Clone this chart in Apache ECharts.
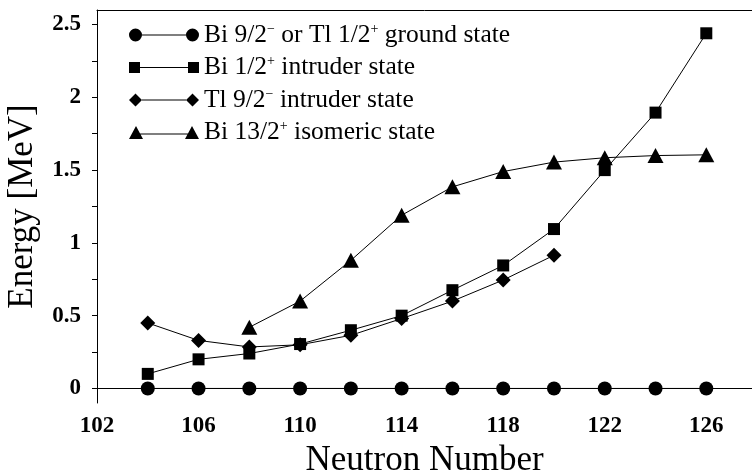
<!DOCTYPE html>
<html>
<head>
<meta charset="utf-8">
<script src="https://cdn.jsdelivr.net/npm/echarts@6/dist/echarts.min.js"></script>
<style>html,body{margin:0;padding:0;background:#fff}#c{width:752px;height:470px}</style>
</head>
<body>
<div id="c"></div>
<script>
var neutronGround = [104, 106, 108, 110, 112, 114, 116, 118, 120, 122, 124, 126];
var groundState = [0, 0, 0, 0, 0, 0, 0, 0, 0, 0, 0, 0];
var neutronBiIntruder = [104, 106, 108, 110, 112, 114, 116, 118, 120, 122, 124, 126];
var biIntruder = [0.1, 0.2, 0.24, 0.305, 0.4, 0.5, 0.675, 0.845, 1.095, 1.5, 1.895, 2.44];
var neutronTlIntruder = [104, 106, 108, 110, 112, 114, 116, 118, 120];
var tlIntruder = [0.45, 0.33, 0.285, 0.3, 0.365, 0.48, 0.6, 0.745, 0.915];
var neutronIsomer = [108, 110, 112, 114, 116, 118, 120, 122, 124, 126];
var biIsomer = [0.42, 0.6, 0.88, 1.19, 1.385, 1.49, 1.555, 1.585, 1.6, 1.605];
var xTickLabels = [102, 106, 110, 114, 118, 122, 126];
var yTickLabels = [0, 0.5, 1, 1.5, 2, 2.5];
var seriesNames = ['ground', 'biIntr', 'tlIntr', 'iso'];

function pairs(xs, ys) { return xs.map(function (x, i) { return [x, ys[i]]; }); }
var xMinorTicks = []; for (var t = 102; t <= 126; t += 2) xMinorTicks.push(t);
var yMinorTicks = []; for (var u = 0; u <= 10; u++) yMinorTicks.push(u * 0.25);

var serif = '"Liberation Serif", "Times New Roman", serif';
var circ = 'M0,7 a6.5,6.5 0 1,0 13,0 a6.5,6.5 0 1,0 -13,0 Z M13,6.5 L57,6.5 L57,7.5 L13,7.5 Z M57,7 a6.5,6.5 0 1,0 13,0 a6.5,6.5 0 1,0 -13,0 Z';
var sq = 'M0,0 L11,0 L11,11 L0,11 Z M11,5 L59,5 L59,6 L11,6 Z M59,0 L70,0 L70,11 L59,11 Z';
var dia = 'M0,6.5 L6.5,0 L13,6.5 L6.5,13 Z M13,6 L57,6 L57,7 L13,7 Z M57,6.5 L63.5,0 L70,6.5 L63.5,13 Z';
var tri = 'M0,13 L7,0 L14,13 Z M10,7.5 L60,7.5 L60,8.5 L10,8.5 Z M56,13 L63,0 L70,13 Z';
var legendText = {
  ground: '{a|Bi 9/2}{s|\u2212}{a| or Tl 1/2}{s|+}{a| ground state}',
  biIntr: '{a|Bi 1/2}{s|+}{a| intruder state}',
  tlIntr: '{a|Tl 9/2}{s|\u2212}{a| intruder state}',
  iso: '{a|Bi 13/2}{s|+}{a| isomeric state}'
};

function mk(name, xs, ys, sym, size) {
  return {
    name: name, type: 'line', data: pairs(xs, ys),
    symbol: sym, symbolSize: size, showSymbol: true,
    lineStyle: { color: '#000', width: 1 },
    itemStyle: { color: '#000' },
    emphasis: { disabled: true },
    animation: false, z: 3
  };
}

var chart = echarts.init(document.getElementById('c'));
chart.setOption({
  backgroundColor: '#fff',
  animation: false,
  grid: { left: 97, right: 0, top: 10, bottom: 67, containLabel: false, outerBoundsMode: 'none' },
  legend: {
    orient: 'vertical', left: 129, top: 22, padding: 0,
    itemWidth: 70, itemHeight: 14, itemGap: 6.5, symbolKeepAspect: true,
    data: [
      { name: 'ground', icon: 'path://' + circ },
      { name: 'biIntr', icon: 'path://' + sq },
      { name: 'tlIntr', icon: 'path://' + dia },
      { name: 'iso', icon: 'path://' + tri }
    ],
    formatter: function (n) { return legendText[n]; },
    textStyle: {
      rich: {
        a: { fontFamily: serif, fontSize: 25.5, color: '#000', lineHeight: 26 },
        s: { fontFamily: serif, fontSize: 14, color: '#000', verticalAlign: 'top', lineHeight: 14 }
      }
    }
  },
  xAxis: [{
    type: 'value', min: 102, max: 127.8, interval: 4,
    axisLine: { lineStyle: { color: '#000', width: 1 } },
    axisTick: { show: true, length: 4, inside: false, customValues: xMinorTicks, lineStyle: { color: '#000' } },
    axisLabel: { customValues: xTickLabels, color: '#000', fontFamily: serif, fontWeight: 'bold', fontSize: 23, margin: 12 },
    splitLine: { show: false },
    name: 'Neutron Number', nameLocation: 'middle', nameGap: 34,
    nameTextStyle: { fontFamily: serif, fontSize: 35, color: '#000' }
  }, {
    type: 'value', position: 'top', min: 102, max: 127.8,
    axisLine: { show: true, onZero: false, lineStyle: { color: '#000', width: 1 } },
    axisTick: { show: false }, axisLabel: { show: false }, splitLine: { show: false }
  }],
  yAxis: {
    type: 'value', min: -0.1, max: 2.6,
    axisLine: { show: true, lineStyle: { color: '#000', width: 1 } },
    axisTick: { show: true, length: 5, customValues: yMinorTicks, lineStyle: { color: '#000' } },
    axisLabel: { customValues: yTickLabels, color: '#000', fontFamily: serif, fontWeight: 'bold', fontSize: 23, margin: 16 },
    splitLine: { show: false },
    name: 'Energy [MeV]', nameLocation: 'middle', nameGap: 57, nameRotate: 90,
    nameTextStyle: { fontFamily: serif, fontSize: 35, color: '#000' }
  },
  series: [
    mk('ground', neutronGround, groundState, 'circle', 14),
    mk('biIntr', neutronBiIntruder, biIntruder, 'rect', 12),
    mk('tlIntr', neutronTlIntruder, tlIntruder, 'diamond', 15),
    mk('iso', neutronIsomer, biIsomer, 'triangle', [16, 15])
  ]
});
</script>
</body>
</html>
